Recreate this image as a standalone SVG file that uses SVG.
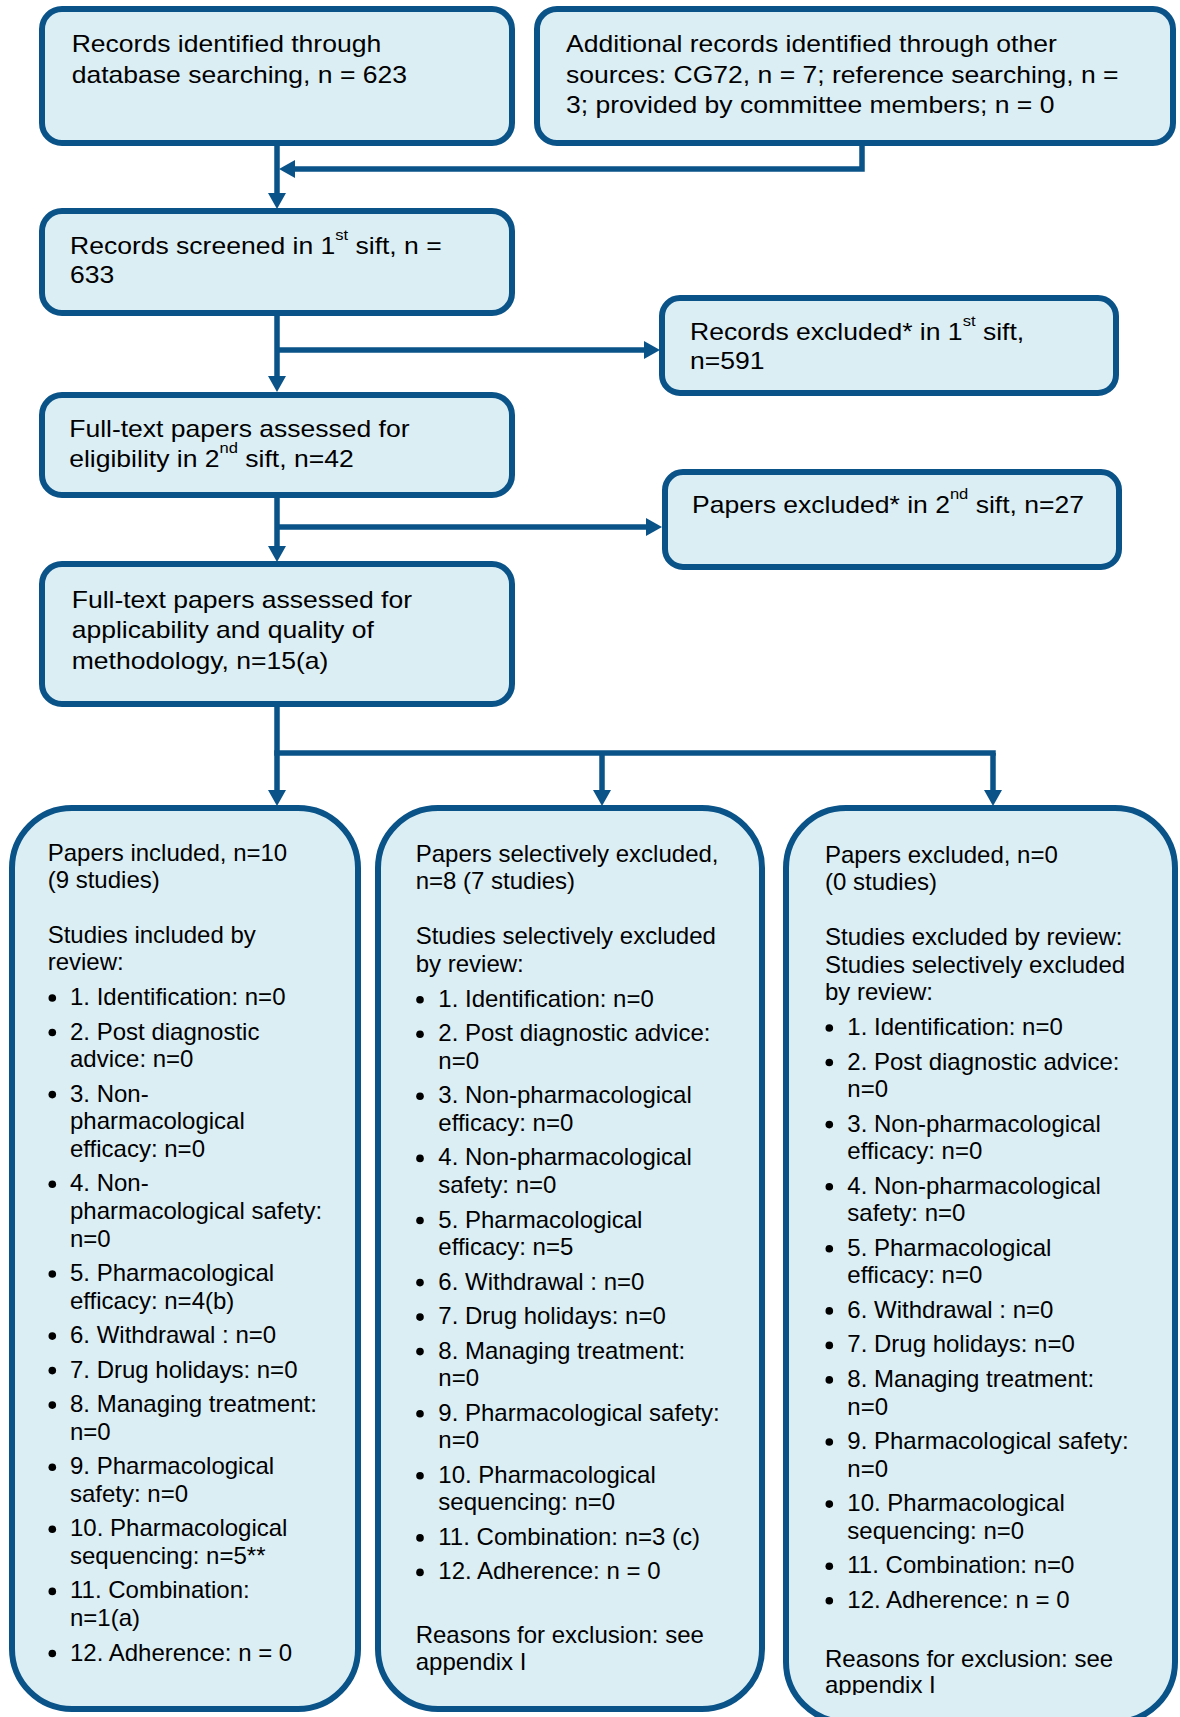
<svg xmlns="http://www.w3.org/2000/svg" width="1180" height="1717" viewBox="0 0 1180 1717">
<style>
.box{fill:#dbeef4;stroke:#0a5389;stroke-width:6}
.t{font-family:"Liberation Sans",Arial,sans-serif;font-size:24px;fill:#000}
.sup{font-size:15px}
.ln{fill:none;stroke:#0a5389;stroke-width:5.5}
.b{fill:#000}
</style>
<defs>
<marker id="ah" viewBox="0 0 16 18" refX="0" refY="9" markerWidth="16" markerHeight="18" markerUnits="userSpaceOnUse" orient="auto">
<path d="M0,0 L16,9 L0,18 z" fill="#0a5389"/>
</marker>
<clipPath id="clipR"><rect x="786" y="808" width="392" height="887"/></clipPath>
</defs>

<g id="connectors">
<path class="ln" d="M277,145 V193" marker-end="url(#ah)"/>
<path class="ln" d="M862,145 V169 H295" marker-end="url(#ah)"/>
<path class="ln" d="M277,313 V376" marker-end="url(#ah)"/>
<path class="ln" d="M277,350 H644" marker-end="url(#ah)"/>
<path class="ln" d="M277,497 V546" marker-end="url(#ah)"/>
<path class="ln" d="M277,527 H646" marker-end="url(#ah)"/>
<path class="ln" d="M277,706 V790" marker-end="url(#ah)"/>
<path class="ln" d="M274.25,753 H995.75"/>
<path class="ln" d="M602,753 V790" marker-end="url(#ah)"/>
<path class="ln" d="M993,753 V790" marker-end="url(#ah)"/>
</g>

<g id="n1">
<rect class="box" x="42" y="9" width="470" height="134" rx="20"/>
<text class="t" transform="translate(71.7 0) scale(1.105 1)"><tspan x="0" y="52.3">Records identified through</tspan><tspan x="0" y="83.3">database searching, n = 623</tspan></text>
</g>

<g id="n2">
<rect class="box" x="537" y="9" width="636" height="134" rx="20"/>
<text class="t" transform="translate(566 0) scale(1.105 1)"><tspan x="0" y="52.3">Additional records identified through other</tspan><tspan x="0" y="83.3">sources: CG72, n = 7; reference searching, n =</tspan><tspan x="0" y="113.5">3; provided by committee members; n = 0</tspan></text>
</g>

<g id="n3">
<rect class="box" x="42" y="211" width="470" height="102" rx="20"/>
<text class="t" transform="translate(70 0) scale(1.105 1)"><tspan x="0" y="254.3">Records screened in 1</tspan><tspan class="sup" dy="-14">st</tspan><tspan dy="14"> sift, n =</tspan><tspan x="0" y="283.3">633</tspan></text>
</g>

<g id="n4">
<rect class="box" x="662" y="298" width="454" height="95" rx="18"/>
<text class="t" transform="translate(690 0) scale(1.105 1)"><tspan x="0" y="340">Records excluded* in 1</tspan><tspan class="sup" dy="-14">st</tspan><tspan dy="14"> sift,</tspan><tspan x="0" y="369.3">n=591</tspan></text>
</g>

<g id="n5">
<rect class="box" x="42" y="395" width="470" height="100" rx="20"/>
<text class="t" transform="translate(69.2 0) scale(1.105 1)"><tspan x="0" y="436.7">Full-text papers assessed for</tspan><tspan x="0" y="466.7">eligibility in 2</tspan><tspan class="sup" dy="-14">nd</tspan><tspan dy="14"> sift, n=42</tspan></text>
</g>

<g id="n6">
<rect class="box" x="665" y="472" width="454" height="95" rx="18"/>
<text class="t" transform="translate(692 0) scale(1.105 1)"><tspan x="0" y="513.3">Papers excluded* in 2</tspan><tspan class="sup" dy="-14">nd</tspan><tspan dy="14"> sift, n=27</tspan></text>
</g>

<g id="n7">
<rect class="box" x="42" y="564" width="470" height="140" rx="20"/>
<text class="t" transform="translate(71.7 0) scale(1.105 1)"><tspan x="0" y="608">Full-text papers assessed for</tspan><tspan x="0" y="638.5">applicability and quality of</tspan><tspan x="0" y="669">methodology, n=15(a)</tspan></text>
</g>

<g id="n8">
<rect class="box" x="12" y="808" width="346" height="901" rx="60"/>
<text class="t">
<tspan x="47.7" y="860.7">Papers included, n=10</tspan>
<tspan x="47.7" y="888.3">(9 studies)</tspan>
<tspan x="47.7" y="943.3">Studies included by</tspan>
<tspan x="47.7" y="970">review:</tspan>
<tspan x="70" y="1005">1. Identification: n=0</tspan>
<tspan x="70" y="1039.5">2. Post diagnostic</tspan>
<tspan x="70" y="1067.1">advice: n=0</tspan>
<tspan x="70" y="1101.6">3. Non-</tspan>
<tspan x="70" y="1129.2">pharmacological</tspan>
<tspan x="70" y="1156.8">efficacy: n=0</tspan>
<tspan x="70" y="1191.3">4. Non-</tspan>
<tspan x="70" y="1218.9">pharmacological safety:</tspan>
<tspan x="70" y="1246.5">n=0</tspan>
<tspan x="70" y="1281">5. Pharmacological</tspan>
<tspan x="70" y="1308.6">efficacy: n=4(b)</tspan>
<tspan x="70" y="1343.1">6. Withdrawal : n=0</tspan>
<tspan x="70" y="1377.6">7. Drug holidays: n=0</tspan>
<tspan x="70" y="1412.1">8. Managing treatment:</tspan>
<tspan x="70" y="1439.7">n=0</tspan>
<tspan x="70" y="1474.2">9. Pharmacological</tspan>
<tspan x="70" y="1501.8">safety: n=0</tspan>
<tspan x="70" y="1536.3">10. Pharmacological</tspan>
<tspan x="70" y="1563.9">sequencing: n=5**</tspan>
<tspan x="70" y="1598.4">11. Combination:</tspan>
<tspan x="70" y="1626">n=1(a)</tspan>
<tspan x="70" y="1660.5">12. Adherence: n = 0</tspan>
</text>
<g class="b">
<circle cx="52.3" cy="998" r="3.8"/><circle cx="52.3" cy="1032.5" r="3.8"/><circle cx="52.3" cy="1094.6" r="3.8"/><circle cx="52.3" cy="1184.3" r="3.8"/><circle cx="52.3" cy="1274" r="3.8"/><circle cx="52.3" cy="1336.1" r="3.8"/><circle cx="52.3" cy="1370.6" r="3.8"/><circle cx="52.3" cy="1405.1" r="3.8"/><circle cx="52.3" cy="1467.2" r="3.8"/><circle cx="52.3" cy="1529.3" r="3.8"/><circle cx="52.3" cy="1591.4" r="3.8"/><circle cx="52.3" cy="1653.5" r="3.8"/>
</g>
</g>

<g id="n9">
<rect class="box" x="378" y="808" width="384" height="901" rx="60"/>
<text class="t">
<tspan x="415.7" y="861.7">Papers selectively excluded,</tspan>
<tspan x="415.7" y="889.3">n=8 (7 studies)</tspan>
<tspan x="415.7" y="944.3">Studies selectively excluded</tspan>
<tspan x="415.7" y="971.7">by review:</tspan>
<tspan x="438.3" y="1006.7">1. Identification: n=0</tspan>
<tspan x="438.3" y="1041.2">2. Post diagnostic advice:</tspan>
<tspan x="438.3" y="1068.8">n=0</tspan>
<tspan x="438.3" y="1103.3">3. Non-pharmacological</tspan>
<tspan x="438.3" y="1130.9">efficacy: n=0</tspan>
<tspan x="438.3" y="1165.4">4. Non-pharmacological</tspan>
<tspan x="438.3" y="1193">safety: n=0</tspan>
<tspan x="438.3" y="1227.5">5. Pharmacological</tspan>
<tspan x="438.3" y="1255.1">efficacy: n=5</tspan>
<tspan x="438.3" y="1289.6">6. Withdrawal : n=0</tspan>
<tspan x="438.3" y="1324.1">7. Drug holidays: n=0</tspan>
<tspan x="438.3" y="1358.6">8. Managing treatment:</tspan>
<tspan x="438.3" y="1386.2">n=0</tspan>
<tspan x="438.3" y="1420.7">9. Pharmacological safety:</tspan>
<tspan x="438.3" y="1448.3">n=0</tspan>
<tspan x="438.3" y="1482.8">10. Pharmacological</tspan>
<tspan x="438.3" y="1510.4">sequencing: n=0</tspan>
<tspan x="438.3" y="1544.9">11. Combination: n=3 (c)</tspan>
<tspan x="438.3" y="1579.4">12. Adherence: n = 0</tspan>
<tspan x="415.7" y="1643.3">Reasons for exclusion: see</tspan>
<tspan x="415.7" y="1670">appendix I</tspan>
</text>
<g class="b">
<circle cx="420" cy="999.7" r="3.8"/><circle cx="420" cy="1034.2" r="3.8"/><circle cx="420" cy="1096.3" r="3.8"/><circle cx="420" cy="1158.4" r="3.8"/><circle cx="420" cy="1220.5" r="3.8"/><circle cx="420" cy="1282.6" r="3.8"/><circle cx="420" cy="1317.1" r="3.8"/><circle cx="420" cy="1351.6" r="3.8"/><circle cx="420" cy="1413.7" r="3.8"/><circle cx="420" cy="1475.8" r="3.8"/><circle cx="420" cy="1537.9" r="3.8"/><circle cx="420" cy="1572.4" r="3.8"/>
</g>
</g>

<g id="n10">
<rect class="box" x="786" y="808" width="389" height="914" rx="60"/>
<g clip-path="url(#clipR)">
<text class="t">
<tspan x="825" y="862.7">Papers excluded, n=0</tspan>
<tspan x="825" y="890">(0 studies)</tspan>
<tspan x="825" y="945">Studies excluded by review:</tspan>
<tspan x="825" y="972.7">Studies selectively excluded</tspan>
<tspan x="825" y="1000.3">by review:</tspan>
<tspan x="847.3" y="1035">1. Identification: n=0</tspan>
<tspan x="847.3" y="1069.5">2. Post diagnostic advice:</tspan>
<tspan x="847.3" y="1097.1">n=0</tspan>
<tspan x="847.3" y="1131.6">3. Non-pharmacological</tspan>
<tspan x="847.3" y="1159.2">efficacy: n=0</tspan>
<tspan x="847.3" y="1193.7">4. Non-pharmacological</tspan>
<tspan x="847.3" y="1221.3">safety: n=0</tspan>
<tspan x="847.3" y="1255.8">5. Pharmacological</tspan>
<tspan x="847.3" y="1283.4">efficacy: n=0</tspan>
<tspan x="847.3" y="1317.9">6. Withdrawal : n=0</tspan>
<tspan x="847.3" y="1352.4">7. Drug holidays: n=0</tspan>
<tspan x="847.3" y="1386.9">8. Managing treatment:</tspan>
<tspan x="847.3" y="1414.5">n=0</tspan>
<tspan x="847.3" y="1449">9. Pharmacological safety:</tspan>
<tspan x="847.3" y="1476.6">n=0</tspan>
<tspan x="847.3" y="1511.1">10. Pharmacological</tspan>
<tspan x="847.3" y="1538.7">sequencing: n=0</tspan>
<tspan x="847.3" y="1573.2">11. Combination: n=0</tspan>
<tspan x="847.3" y="1607.7">12. Adherence: n = 0</tspan>
<tspan x="825" y="1666.7">Reasons for exclusion: see</tspan>
<tspan x="825" y="1693.3">appendix I</tspan>
</text>
</g>
<g class="b">
<circle cx="829.3" cy="1028" r="3.8"/><circle cx="829.3" cy="1062.5" r="3.8"/><circle cx="829.3" cy="1124.6" r="3.8"/><circle cx="829.3" cy="1186.7" r="3.8"/><circle cx="829.3" cy="1248.8" r="3.8"/><circle cx="829.3" cy="1310.9" r="3.8"/><circle cx="829.3" cy="1345.4" r="3.8"/><circle cx="829.3" cy="1379.9" r="3.8"/><circle cx="829.3" cy="1442" r="3.8"/><circle cx="829.3" cy="1504.1" r="3.8"/><circle cx="829.3" cy="1566.2" r="3.8"/><circle cx="829.3" cy="1600.7" r="3.8"/>
</g>
</g>
</svg>
